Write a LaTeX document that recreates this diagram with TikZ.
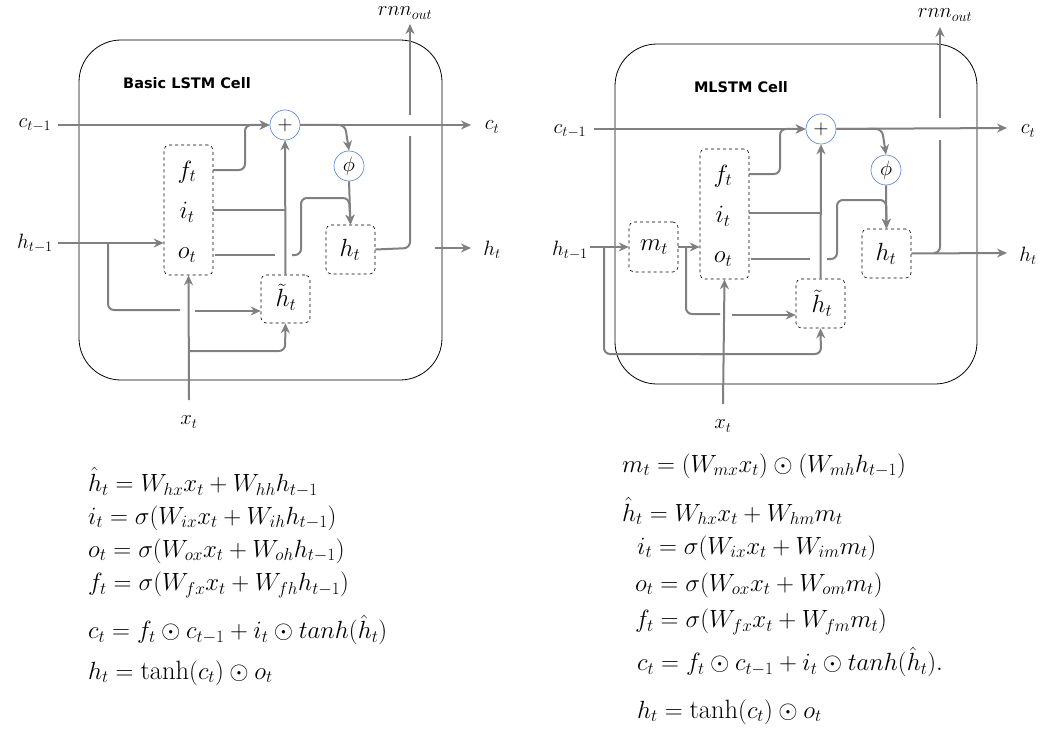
\documentclass[tikz,border=0pt]{standalone}
\usepackage{amsmath}
\usepackage{fontspec}
\newfontfamily\titlefont{DejaVu Sans}
\usetikzlibrary{arrows.meta}
\begin{document}
\begin{tikzpicture}[x=1pt,y=-1pt,
  ln/.style={draw=gray,line width=2pt,rounded corners=6pt},
  ar/.style={ln,-{Stealth[length=10pt,width=9pt]}},
  gate/.style={draw,dashed,rounded corners=5pt,line width=0.6pt,inner sep=0pt},
  op/.style={circle,draw={rgb,255:red,100;green,140;blue,210},fill=white,minimum size=30pt,inner sep=0pt,line width=0.7pt,font=\fontsize{20}{24}\selectfont},
  lab/.style={font=\fontsize{22}{26}\selectfont},
  ilab/.style={font=\fontsize{24}{28}\selectfont},
  ttl/.style={font=\titlefont\bfseries\fontsize{14.5}{17}\selectfont},
  eq/.style={anchor=west,font=\fontsize{26.5}{30}\selectfont,inner sep=0pt},
  cell/.style={draw,line width=0.8pt,rounded corners=42pt}]
\useasboundingbox (0,0) rectangle (1054,733);
%%%%%%%%%% LEFT
\node[cell,minimum width=363pt,minimum height=340pt] (L) at (260.5,210) {};
\node[ttl] (Lt) at (187,83) {Basic LSTM Cell};
\node[op] (Lp) at (285,125) {$+$};
\node[op] (Lphi) at (349,166) {$\phi$};
\node[gate,minimum width=49pt,minimum height=130pt] (Lg) at (188.5,210) {};
\node[ilab] (Lf) at (187,172) {$f_t$};
\node[ilab] (Li) at (187,212) {$i_t$};
\node[ilab] (Lo) at (187,255) {$o_t$};
\node[gate,minimum width=49pt,minimum height=49pt] (Lh) at (350.5,249.5) {};
\node[ilab] at (350,250) {$h_t$};
\node[gate,minimum width=49pt,minimum height=48pt] (Lht) at (285.5,299) {};
\node[ilab] at (286,297) {$\tilde h_t$};
\node[lab] (Lc0) at (35,125) {$c_{t-1}$};
\node[lab] (Lh0) at (35,243) {$h_{t-1}$};
\node[lab] (Lc1) at (492,127) {$c_t$};
\node[lab] (Lh1) at (492,250) {$h_t$};
\node[lab] (Lr) at (405,13) {$rnn_{out}$};
\node[lab] (Lx) at (189,422) {$x_t$};
\coordinate (Lxs) at (189,400);
\coordinate (La) at (195,311);
\draw[ar] (58,125) -- (Lp);
\draw[ar] (Lp) -- (471,125);
\draw[ar] (Lp.east) -- (345,125) -- (Lphi.north);
\draw[ar] (213,170) -- (245,170) -- (245,125) -- (Lp.west);
\draw[ln] (213,210) -- (285,210);
\draw[ar] (Lht.north) -- (Lp.south);
\draw[ln] (215,255) -- (275,255);
\draw[ar] (292,255) -- (301,255) -- (301,198) -- (349,198) -- (Lh.north);
\draw[ar] (Lphi.south) -- (Lh.north);
\draw[ln] (Lh.east) -- (410,248) -- (410,136);
\draw[ar] (410,115) -- (410,24);
\draw[ar] (435,248) -- (471,248);
\draw[ar] (58,243) -- (Lg.west|-Lh0);
\draw[ln] (108,243) -- (108,310) -- (180,310);
\draw[ar] (La) -- (La-|Lht.west);
\draw[ar] (Lxs) -- (Lg.south);
\draw[ar] (189,351) -- (285,351) -- (Lht.south);
%%%%%%%%%% RIGHT
\node[cell,minimum width=362pt,minimum height=340pt] (R) at (796,214) {};
\node[ttl] (Rt) at (741,87) {MLSTM Cell};
\node[op] (Rp) at (821,129) {$+$};
\node[op] (Rphi) at (886,170) {$\phi$};
\node[gate,minimum width=49pt,minimum height=130pt] (Rg) at (724.5,214) {};
\node[ilab] at (723,176) {$f_t$};
\node[ilab] at (723,216) {$i_t$};
\node[ilab] at (723,259) {$o_t$};
\node[gate,minimum width=49pt,minimum height=50pt] (Rm) at (653.5,247) {};
\node[ilab] at (654,247) {$m_t$};
\node[gate,minimum width=49pt,minimum height=49pt] (Rh) at (886.5,253.5) {};
\node[ilab] at (886,254) {$h_t$};
\node[gate,minimum width=49pt,minimum height=49pt] (Rht) at (820.5,303.5) {};
\node[ilab] at (822,303) {$\tilde h_t$};
\node[lab] (Rc0) at (570,131) {$c_{t-1}$};
\node[lab] (Rh0) at (570,250) {$h_{t-1}$};
\node[lab] (Rc1) at (1028,131) {$c_t$};
\node[lab] (Rh1) at (1028,256) {$h_t$};
\node[lab] (Rr) at (945,15) {$rnn_{out}$};
\node[lab] (Rx) at (723,426) {$x_t$};
\coordinate (Rxs) at (723,404);
\coordinate (Ra) at (732,315);
\draw[ar] (594,129) -- (Rp);
\draw[ar] (Rp) -- (1007,128);
\draw[ar] (Rp.east) -- (882,129) -- (Rphi.north);
\draw[ar] (749,174) -- (780,174) -- (780,129) -- (Rp.west);
\draw[ln] (749,213) -- (821,213);
\draw[ar] (Rht.north) -- (Rp.south);
\draw[ln] (751,259) -- (810,259);
\draw[ar] (827,259) -- (837,259) -- (837,200) -- (886,200) -- (Rh.north);
\draw[ar] (Rphi.south) -- (Rh.north);
\draw[ar] (Rh.east) -- (1007,253);
\draw[ln] (935,253) -- (940,253) -- (940,140);
\draw[ar] (940,118) -- (940,27);
\draw[ar] (590,247) -- (Rm.west);
\draw[ln] (604,247) -- (604,354) -- (723,354);
\draw[ar] (Rxs) -- (Rg.south);
\draw[ar] (700,354) -- (821,354) -- (Rht.south);
\draw[ar] (Rm.east) -- (Rg.west|-Rm);
\draw[ln] (686,247) -- (686,314) -- (720,314);
\draw[ar] (Ra) -- (Ra-|Rht.west);
%%%%%%%%%% EQUATIONS
\node[eq] (e1) at (88,482) {$\hat h_t = W_{hx}x_t + W_{hh}h_{t-1}$};
\node[eq] (e2) at (88,518) {$i_t = \sigma(W_{ix}x_t + W_{ih}h_{t-1})$};
\node[eq] (e3) at (88,551) {$o_t = \sigma(W_{ox}x_t + W_{oh}h_{t-1})$};
\node[eq] (e4) at (88,585) {$f_t = \sigma(W_{fx}x_t + W_{fh}h_{t-1})$};
\node[eq] (e5) at (88,630) {$c_t = f_t \odot c_{t-1} + i_t \odot tanh(\hat h_t)$};
\node[eq] (e6) at (88,673) {$h_t = \tanh(c_t) \odot o_t$};
\node[eq] (r1) at (622,466) {$m_t = (W_{mx}x_t) \odot (W_{mh}h_{t-1})$};
\node[eq] (r2) at (622,511) {$\hat h_t = W_{hx}x_t + W_{hm}m_t$};
\node[eq] (r3) at (637,548) {$i_t = \sigma(W_{ix}x_t + W_{im}m_t)$};
\node[eq] (r4) at (635,585) {$o_t = \sigma(W_{ox}x_t + W_{om}m_t)$};
\node[eq] (r5) at (635,622) {$f_t = \sigma(W_{fx}x_t + W_{fm}m_t)$};
\node[eq] (r6) at (637,662) {$c_t = f_t \odot c_{t-1} + i_t \odot tanh(\hat h_t).$};
\node[eq] (r7) at (637,712) {$h_t = \tanh(c_t) \odot o_t$};
\end{tikzpicture}
\end{document}
